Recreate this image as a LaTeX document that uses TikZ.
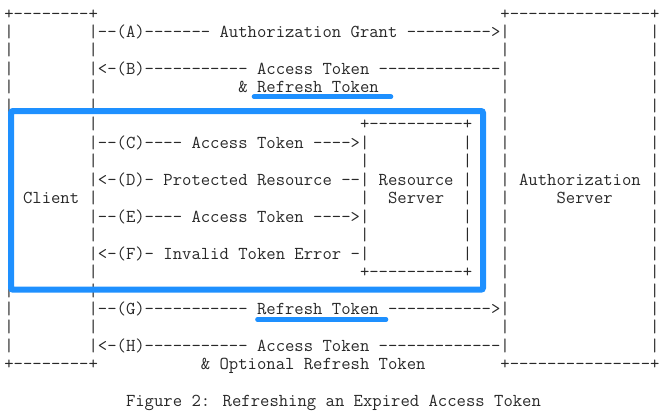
\documentclass[tikz,border=0pt]{standalone}
\usepackage{fontspec}
\definecolor{hl}{RGB}{30,144,255}
\definecolor{ink}{RGB}{40,40,40}
\newlength\cwm
\newcommand\hy[1]{\foreach\i in {1,...,#1}{-\kern0pt}}
\newcommand\TX[3]{\node[tt] (t#1c#2) at ({\xl+#2*\cw},{\yb+#1*\lh}) {#3};}
\begin{document}
\settowidth\cwm{\ttfamily\fontsize{17.83}{18}\selectfont 0}%
\pgfmathsetmacro\fs{17.83*9.36/\cwm}%
\begin{tikzpicture}[x=1pt,y=-1pt]
\def\cw{9.36}\def\xl{4.32}\def\yb{19.0}\def\lh{18.47}
\tikzset{tt/.style={font=\ttfamily\fontsize{\fs}{\fs}\selectfont,anchor=base west,inner sep=0pt,outer sep=0pt,text=ink}}
\useasboundingbox (0,0) rectangle (664,410);
% box borders
\TX{0}{0}{+\hy{8}+}
\TX{0}{53}{+\hy{15}+}
\TX{19}{0}{+\hy{8}+}
\TX{19}{53}{+\hy{15}+}
\foreach \r in {1,...,18}{\foreach \c in {0,9,53,69}{\TX{\r}{\c}{|}}}
\TX{6}{38}{+\hy{10}+}
\TX{14}{38}{+\hy{10}+}
\foreach \r in {7,...,13}{\foreach \c in {38,49}{\TX{\r}{\c}{|}}}
% messages
\TX{1}{10}{\hy{2}(A)\hy{7} Authorization Grant \hy{9}>}
\TX{3}{10}{<-(B)\hy{11} Access Token \hy{13}}
\TX{4}{25}{\&}
\TX{4}{27}{Refresh Token}
\TX{7}{10}{\hy{2}(C)\hy{4} Access Token \hy{4}>}
\TX{9}{10}{<-(D)- Protected Resource \hy{2}}
\TX{11}{10}{\hy{2}(E)\hy{4} Access Token \hy{4}>}
\TX{13}{10}{<-(F)- Invalid Token Error -}
\TX{16}{10}{\hy{2}(G)\hy{11}}
\TX{16}{27}{Refresh Token}
\TX{16}{41}{\hy{11}>}
\TX{18}{10}{<-(H)\hy{11} Access Token \hy{13}}
\TX{19}{21}{\& Optional Refresh Token}
% labels
\TX{10}{2}{Client}
\TX{9}{40}{Resource}
\TX{10}{41}{Server}
\TX{9}{55}{Authorization}
\TX{10}{59}{Server}
\TX{21}{13}{Figure 2: Refreshing an Expired Access Token}
% highlights
\draw[hl,line width=6pt,rounded corners=2pt] (11,111) rectangle (483,289.7);
\draw[hl,line width=4.6pt,line cap=round] (254,96.7) -- (391,96.7);
\draw[hl,line width=4.6pt,line cap=round] (257.5,319.5) -- (386,319.5);
\end{tikzpicture}
\end{document}
